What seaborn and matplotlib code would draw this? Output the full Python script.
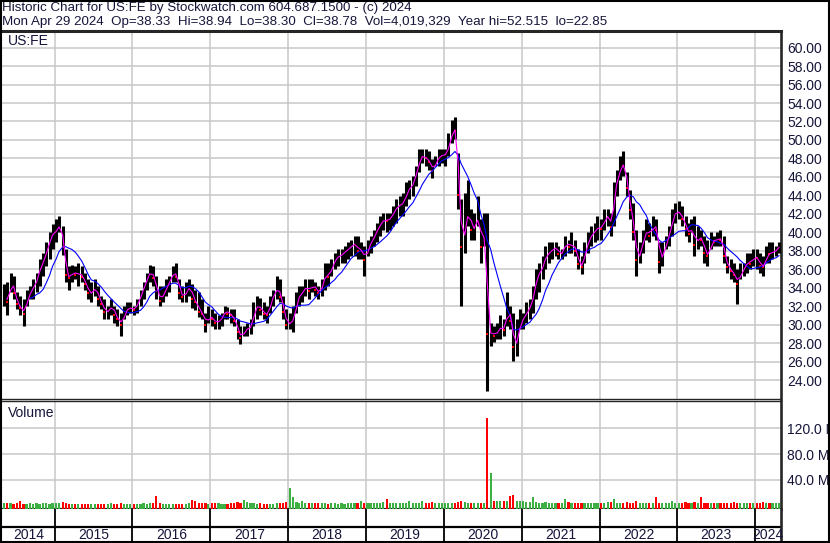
import numpy as np
import pandas as pd
import seaborn as sns
import matplotlib.pyplot as plt
from matplotlib.patches import Rectangle
from matplotlib.ticker import FuncFormatter

sns.set_style('white')
plt.rcParams['font.family'] = ['Liberation Sans', 'DejaVu Sans']

# semi-monthly bars, May 2014 .. Apr 2024
hi = [34.4, 34.6, 35.6, 35.3, 33.5, 33.1, 32.8, 33.8, 34.2, 34.9, 35.6, 37.1, 37.8, 38.9, 40.0, 40.9,
      41.4, 41.8, 40.7, 38.2, 36.4, 36.5, 36.4, 36.7, 36.4, 35.6, 34.9, 34.6, 34.9, 34.2, 33.1, 32.8, 32.0, 32.8, 32.0, 31.7, 31.3, 32.0, 32.4, 32.4,
      32.0, 32.8, 33.8, 34.6, 35.6, 36.5, 36.4, 35.3, 34.2, 34.2, 34.9, 35.3, 36.4, 36.7, 34.9, 34.2, 34.6, 34.9, 34.4, 33.8, 33.5, 32.8, 31.3, 32.0,
      31.7, 31.3, 31.0, 31.3, 32.0, 31.9, 31.7, 31.7, 30.6, 29.9, 29.9, 30.2, 30.6, 32.4, 33.1, 32.9, 32.4, 32.0, 33.1, 33.8, 35.3, 34.9, 33.1, 31.7,
      31.3, 32.0, 33.5, 34.2, 34.2, 34.9, 34.9, 34.9, 34.6, 34.2, 34.9, 36.7, 36.7, 37.1, 37.8, 38.2, 38.2, 38.5, 38.9, 39.2, 39.6, 39.6, 38.9, 38.5,
      39.2, 39.6, 40.3, 41.0, 41.8, 42.1, 42.1, 42.1, 42.8, 43.6, 43.9, 44.3, 45.4, 45.7, 46.1, 47.2, 49.0, 49.0, 49.0, 48.8, 47.9, 48.3, 49.0, 49.0,
      49.0, 50.8, 52.2, 52.5, 48.6, 43.6, 44.3, 45.7, 42.5, 42.1, 43.9, 41.4, 42.1, 42.1, 30.2, 29.9, 30.2, 31.0, 30.6, 33.5, 32.0, 31.3, 30.6, 31.7,
      31.3, 32.4, 32.8, 34.2, 36.0, 36.7, 37.4, 38.5, 38.9, 38.9, 38.9, 38.5, 38.2, 39.6, 39.2, 40.0, 39.2, 38.2, 37.4, 38.9, 40.0, 40.7, 41.0, 41.8,
      41.4, 42.5, 42.5, 42.1, 45.4, 46.8, 48.3, 48.8, 46.5, 44.6, 43.2, 40.3, 38.9, 40.3, 41.4, 41.0, 41.8, 41.4, 38.9, 38.9, 39.6, 40.7, 42.5, 43.2,
      43.4, 42.8, 41.8, 41.0, 41.4, 41.8, 40.7, 40.3, 39.6, 39.2, 40.0, 39.6, 40.0, 40.3, 39.6, 37.4, 37.1, 36.7, 36.0, 36.7, 36.7, 37.8, 37.8, 38.2,
      38.2, 37.8, 37.4, 38.5, 38.9, 38.9, 38.5, 38.94]
lo = [32.0, 31.1, 33.5, 32.8, 31.7, 31.0, 29.9, 32.0, 32.8, 32.8, 33.5, 34.2, 35.3, 36.4, 37.1, 38.2,
      38.9, 40.0, 37.5, 34.6, 33.8, 34.6, 34.9, 34.2, 34.6, 33.8, 32.8, 32.4, 33.1, 32.0, 31.7, 30.6, 30.6, 31.0, 30.2, 29.9, 28.8, 30.6, 31.0, 31.3,
      31.1, 31.3, 32.0, 32.8, 33.8, 34.6, 34.2, 32.8, 32.0, 32.4, 33.1, 33.5, 34.6, 34.6, 32.8, 32.4, 32.4, 33.1, 31.8, 31.6, 30.8, 30.6, 29.2, 30.2,
      29.9, 29.5, 29.5, 29.9, 30.6, 30.6, 30.2, 29.9, 28.4, 27.9, 28.8, 28.8, 29.0, 29.9, 30.6, 31.0, 30.6, 30.2, 31.3, 32.0, 32.8, 32.4, 30.6, 29.5,
      29.5, 29.2, 31.3, 32.0, 32.4, 33.1, 32.8, 33.5, 33.1, 32.8, 33.1, 33.8, 34.2, 35.3, 36.0, 36.4, 36.7, 36.7, 37.1, 37.4, 37.4, 37.1, 37.1, 35.3,
      37.4, 37.8, 38.5, 38.9, 39.6, 40.3, 40.0, 40.3, 40.7, 41.0, 41.8, 41.8, 42.8, 43.6, 43.9, 45.0, 46.5, 47.5, 47.2, 46.8, 45.9, 47.2, 47.2, 47.5,
      47.2, 48.3, 49.7, 50.1, 42.5, 32.0, 37.8, 40.7, 39.2, 39.2, 40.7, 36.7, 38.5, 22.85, 27.7, 28.1, 28.4, 28.4, 28.8, 29.9, 29.5, 26.1, 26.6, 29.5,
      29.5, 30.2, 30.6, 31.3, 32.8, 33.5, 34.9, 36.0, 36.7, 37.1, 37.4, 37.1, 37.1, 37.4, 37.8, 37.8, 37.4, 36.0, 35.5, 36.7, 37.8, 38.5, 38.9, 39.2,
      39.2, 40.3, 40.7, 39.6, 40.7, 43.9, 45.7, 46.1, 43.9, 41.4, 39.2, 35.3, 36.7, 37.8, 39.2, 38.9, 39.6, 39.2, 35.6, 36.4, 38.2, 38.5, 39.6, 41.0,
      41.4, 40.7, 39.6, 38.9, 40.0, 37.4, 38.2, 38.5, 36.7, 36.4, 38.2, 38.5, 38.5, 38.5, 36.7, 35.6, 34.9, 34.6, 32.2, 34.9, 35.3, 35.6, 36.0, 36.4,
      36.0, 35.6, 35.3, 36.7, 36.7, 37.1, 37.4, 37.8]
cl = [33.0, 32.4, 35.0, 33.4, 32.2, 31.8, 31.2, 33.0, 33.6, 34.2, 35.0, 36.4, 37.0, 38.2, 39.4, 40.0,
      40.2, 41.0, 38.4, 35.4, 35.0, 35.8, 35.4, 35.6, 35.2, 34.4, 33.4, 33.4, 34.2, 32.8, 32.2, 31.4, 31.4, 32.2, 31.0, 30.6, 30.0, 31.4, 31.8, 31.8,
      31.6, 32.4, 33.4, 34.2, 35.2, 35.8, 35.0, 33.6, 32.6, 33.4, 34.2, 34.8, 35.8, 35.2, 33.4, 33.0, 33.6, 34.2, 32.8, 32.4, 31.4, 31.2, 30.0, 31.0,
      30.6, 30.2, 30.4, 30.8, 31.6, 31.2, 31.0, 30.4, 29.2, 28.6, 29.4, 29.6, 29.8, 31.6, 32.2, 31.6, 31.2, 31.0, 32.6, 33.2, 34.2, 33.0, 31.4, 30.0,
      30.2, 30.6, 32.8, 33.2, 33.6, 34.2, 33.6, 34.4, 33.8, 33.4, 34.4, 35.6, 35.2, 36.4, 37.2, 37.4, 37.6, 38.0, 38.2, 38.6, 38.8, 38.0, 38.2, 37.0,
      38.4, 39.0, 39.8, 40.4, 41.0, 41.4, 41.2, 41.6, 42.2, 42.8, 43.0, 43.2, 44.4, 44.8, 45.4, 46.6, 48.2, 48.2, 48.0, 47.6, 46.6, 47.8, 48.2, 48.4,
      48.4, 49.6, 51.2, 51.0, 44.0, 38.4, 41.0, 42.4, 40.2, 40.6, 42.0, 38.4, 40.4, 29.0, 29.2, 28.8, 29.4, 29.8, 29.4, 31.8, 30.4, 27.6, 28.4, 30.6,
      30.6, 31.6, 32.0, 33.4, 35.2, 35.6, 36.6, 37.6, 37.8, 38.2, 38.4, 37.6, 37.8, 39.0, 38.4, 38.8, 38.0, 36.6, 36.2, 38.2, 39.2, 39.8, 40.2, 40.6,
      40.4, 41.6, 41.8, 40.6, 44.6, 45.8, 47.4, 47.2, 44.8, 42.4, 40.0, 37.0, 37.8, 39.4, 40.4, 39.6, 41.0, 40.2, 36.8, 37.8, 39.0, 40.0, 41.8, 42.2,
      42.2, 41.4, 40.4, 39.8, 40.6, 38.6, 39.6, 39.2, 37.8, 37.4, 39.2, 39.0, 39.4, 39.2, 37.4, 36.2, 35.8, 35.4, 34.4, 35.8, 36.0, 37.0, 36.6, 37.4,
      37.2, 36.4, 36.2, 37.8, 37.6, 38.0, 38.0, 38.78]
# volume, millions
vol = [5, 4, 4, 3, 4, 7.4, 3, 3, 4, 3, 4.3, 3, 4, 4, 3, 4,
       4, 4, 6.4, 4, 3, 3, 2.5, 3, 3, 2.5, 3, 3, 3, 3, 3.5, 3, 3, 4, 3, 3, 4.5, 3, 3, 3,
       3, 3.5, 3, 4, 3.5, 4, 4, 15.2, 4, 3.5, 3, 3.5, 3, 3, 3.5, 3, 3.5, 4, 9, 8, 5, 4, 4, 3.5,
       4, 4.5, 4, 3.5, 3.5, 3.5, 4, 5, 6, 5, 9, 6, 4, 4, 3.5, 4, 3.5, 3, 3.5, 3.5, 4, 4, 4.5, 6,
       27, 14, 6, 5, 7.4, 5, 4.5, 4, 4, 4.5, 4, 4, 3.5, 4, 4, 3.5, 4, 3.5, 4, 4, 4, 4.5, 8, 5,
       5, 4.5, 4, 4, 5, 6, 10, 4.5, 4, 4, 4.5, 4, 4.5, 7.4, 4.5, 4, 4.5, 7.4, 4, 4, 6, 5, 4.5, 4,
       5, 4.5, 4.5, 5, 6.5, 8, 5.5, 5, 4.5, 4.5, 5, 5, 5, 136, 50, 8, 7, 8, 8, 7, 15, 17, 8, 8,
       7, 6, 6, 14, 6, 5, 5, 5.5, 5, 4.5, 4.5, 4.5, 5, 10, 6, 4.5, 4, 4, 4.5, 4, 4.5, 5, 5, 4.5,
       5, 5, 6, 6, 10, 5, 5, 5, 5.5, 5, 5, 7.4, 5, 4.5, 5, 4.5, 5, 13, 5, 4.5, 4.5, 5, 7.4, 5,
       5, 5, 5.5, 5, 5, 5.5, 5, 13, 5, 4.5, 4.5, 4.5, 4, 4.5, 4.5, 5, 5, 6, 5, 4.5, 5, 5, 5, 4.5,
       5, 4.5, 6, 5, 4.5, 4.5, 4, 4]

price_ticks = list(range(24, 61, 2))
vol_ticks = [40, 80, 120]
years = list(range(2014, 2025))

header1 = 'Historic Chart for US:FE by Stockwatch.com 604.687.1500 - (c) 2024'
header2 = ('Mon Apr 29 2024  Op=38.33  Hi=38.94  Lo=38.30  Cl=38.78  '
           'Vol=4,019,329  Year hi=52.515  lo=22.85')

dates = pd.date_range('2014-05-01', periods=len(cl), freq='SMS') + pd.Timedelta(days=7)
df = pd.DataFrame({'date': dates, 'hi': hi, 'lo': lo, 'cl': cl, 'vol': vol})
df['ma_fast'] = df['cl'].rolling(2).mean()
df['ma_slow'] = df['cl'].rolling(9).mean()
df['down'] = df['cl'].diff() < 0

x0, x1 = pd.Timestamp('2014-04-29'), pd.Timestamp('2024-05-01')
year_starts = [pd.Timestamp(f'{y}-01-01') for y in years[1:]]

W, H = 830, 543
fig = plt.figure(figsize=(W / 100, H / 100), dpi=100)


def fx(x):
    return x / W


def fy(y):
    return 1 - y / H


txt = '#15153a'
grid_c = '#c8c8c8'
fs = 10

# price panel
ax = fig.add_axes([fx(2), fy(399), fx(781) - fx(2), fy(31) - fy(399)])
ax.vlines(df['date'], df['lo'], df['hi'], color='black', lw=2.2, zorder=3)
sns.scatterplot(data=df[df['down']], x='date', y='cl', ax=ax, color='red',
                marker='s', s=4, linewidth=0, zorder=4)
sns.lineplot(data=df, x='date', y='ma_slow', ax=ax, color='#0000ff', lw=0.8,
             estimator=None, zorder=5)
sns.lineplot(data=df, x='date', y='ma_fast', ax=ax, color='#ff00ff', lw=0.8,
             estimator=None, zorder=6)
ax.set_xlim(x0, x1)
ax.set_ylim(21.95, 61.8)
ax.set_yticks(price_ticks)
ax.yaxis.set_major_formatter(FuncFormatter(lambda v, p: f'{v:.2f}'))
ax.set_xticks(year_starts)
ax.set_xticklabels([])

# volume panel
axv = fig.add_axes([fx(2), fy(509), fx(781) - fx(2), fy(401) - fy(509)])
vfloor = -5
vcol = np.where(df['down'], '#ff0000', '#3cb043')
axv.bar(df['date'], df['vol'] - vfloor, bottom=vfloor, width=pd.Timedelta(days=11),
        color=vcol, linewidth=0, zorder=3)
axv.set_xlim(x0, x1)
axv.set_ylim(vfloor, 162.3)
axv.set_yticks(vol_ticks)
axv.yaxis.set_major_formatter(FuncFormatter(lambda v, p: f'{v:.1f} M'))
axv.set_xticks(year_starts)
axv.set_xticklabels([])

for a in (ax, axv):
    a.set_xlabel('')
    a.set_ylabel('')
    a.grid(True, color=grid_c, lw=1.1, zorder=0)
    a.yaxis.tick_right()
    a.tick_params(axis='y', length=0, pad=4.5, labelsize=fs, labelcolor=txt)
    a.tick_params(axis='x', length=0)
    a.spines['left'].set_visible(False)
    a.spines['right'].set_linewidth(1.9)
    a.spines['bottom'].set_linewidth(1.0)
    a.spines['top'].set_linewidth(1.0)
ax.spines['top'].set_linewidth(2.2)
axv.spines['bottom'].set_linewidth(1.6)

# year band
axy = fig.add_axes([fx(2), fy(541), fx(781) - fx(2), fy(509) - fy(541)])
axy.set_xlim(x0, x1)
axy.set_ylim(0, 1)
axy.axhline(0.44, color='black', lw=1.6)
axy.vlines(year_starts, 0, 1, color='black', lw=1.3)
for y in years:
    a_ = max(pd.Timestamp(f'{y}-01-01'), x0)
    b_ = min(pd.Timestamp(f'{y + 1}-01-01'), x1)
    axy.text(a_ + (b_ - a_) / 2, 0.2, str(y), ha='center', va='center',
             fontsize=fs, color=txt)
axy.set_xticks([])
axy.set_yticks([])
for s in axy.spines.values():
    s.set_visible(False)
axy.spines['right'].set_visible(True)
axy.spines['right'].set_linewidth(1.9)

# labels and header
fig.text(fx(8), fy(41), 'US:FE', va='center', fontsize=fs, color=txt)
fig.text(fx(8), fy(413), 'Volume', va='center', fontsize=fs, color=txt)
fig.text(fx(2), fy(8), header1, va='center', fontsize=9.6, color=txt)
fig.text(fx(2), fy(22.5), header2, va='center', fontsize=9.6, color=txt)

fig.add_artist(Rectangle((fx(1), fy(542)), fx(828), fy(1) - fy(542),
                         transform=fig.transFigure, fill=False,
                         edgecolor='black', lw=1.5))

fig.savefig('out.png', dpi=100)
